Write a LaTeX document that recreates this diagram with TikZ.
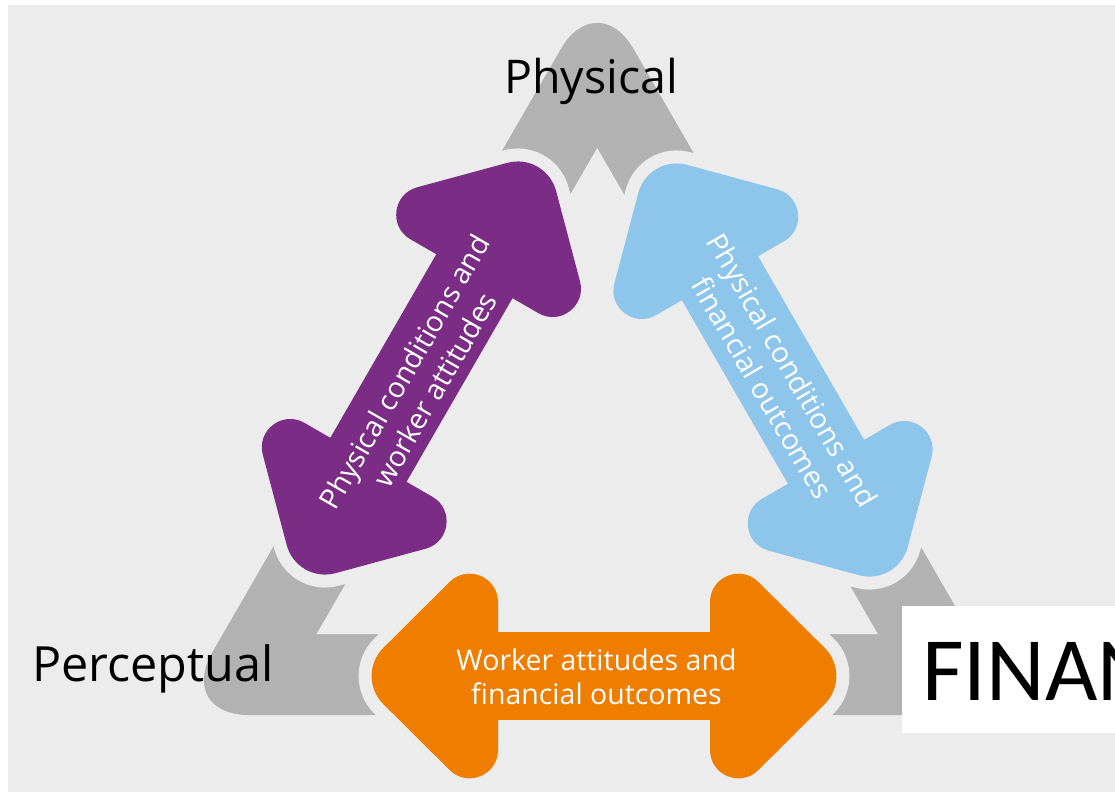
\documentclass[tikz,border=0pt]{standalone}
\usepackage{fontspec}
\setmainfont{Open Sans}
\newfontfamily\carlito{Carlito}
\definecolor{bgc}{RGB}{236,236,236}
\definecolor{tri}{RGB}{178,178,178}
\definecolor{purp}{RGB}{123,45,134}
\definecolor{skyb}{RGB}{142,197,235}
\definecolor{oran}{RGB}{239,125,0}
\newcommand\headR{(220.6,28.2) .. controls (236.3,12.6) and (236.3,-12.6) .. (220.6,-28.2) -- (154.3,-94.1) .. controls (136.4,-111.8) and (106,-99.1) .. (106,-74) -- (106,74) .. controls (106,99.1) and (136.4,111.8) .. (154.3,94.1) -- cycle}
\newcommand\headL{(-220.6,28.2) .. controls (-236.3,12.6) and (-236.3,-12.6) .. (-220.6,-28.2) -- (-154.3,-94.1) .. controls (-136.4,-111.8) and (-106,-99.1) .. (-106,-74) -- (-106,74) .. controls (-106,99.1) and (-136.4,111.8) .. (-154.3,94.1) -- cycle}
\newcommand\shaftR{(-150,-44) rectangle (150,44)}
\newcommand\dblarrow[1]{%
  \draw[outl] \headR; \draw[outl] \headL; \draw[outl] \shaftR;
  \fill[#1] \headR; \fill[#1] \headL; \fill[#1] \shaftR;}
\begin{document}
\begin{tikzpicture}[x=1pt,y=-1pt,
  outl/.style={draw=bgc,line width=26pt,line join=round},
  atext/.style={text=white,font=\fontsize{28.5}{34}\selectfont,align=center,inner sep=0pt},
  rtext/.style={text=white,font=\fontsize{28.5}{35}\selectfont,align=center,inner sep=0pt},
  lbl/.style={text=black,inner sep=0pt,anchor=base west}]
\useasboundingbox (0,0) rectangle (1115,792);
\clip (0,0) rectangle (1115,792);
\fill[white] (0,0) rectangle (1115,792);
\fill[bgc] (8,5) rectangle (1115,792);
% gray triangular ring
\fill[tri, rounded corners=72.7pt] (597,715) -- (1017.9,715) -- (597.2,-14) -- (176.1,715) -- cycle;
\fill[bgc] (597.2,148) -- (877.8,634) -- (316.6,634) -- cycle;
% purple arrow
\begin{scope}[shift={(421.4,368)},rotate=60]
  \dblarrow{purp}
  \node[rtext,transform shape] (ptext) at (-12,4.6) {Physical conditions and\\worker attitudes};
\end{scope}
% blue arrow
\begin{scope}[shift={(773,370)},rotate=-60]
  \dblarrow{skyb}
  \node[rtext,transform shape] (btext) at (10,0.5) {Physical conditions and\\financial outcomes};
\end{scope}
% orange arrow
\begin{scope}[shift={(604,676)}]
  \dblarrow{oran}
\end{scope}
\node[atext] (otext) at (596.5,677) {Worker attitudes and\\financial outcomes};
% labels
\node[lbl,font=\fontsize{46.5}{55}\selectfont] (phys) at (504,93.3) {Physical};
\node[lbl,font=\fontsize{48.5}{56}\selectfont] (perc) at (32,681.7) {Perceptual};
% white box
\node[fill=white,inner sep=0pt,minimum width=213pt,minimum height=127pt,anchor=north west] (box) at (902,606) {};
\node[anchor=base west,inner sep=0pt,font=\carlito\fontsize{90.5}{100}\selectfont] (fin) at (922,700) {FINAN};
\end{tikzpicture}
\end{document}
